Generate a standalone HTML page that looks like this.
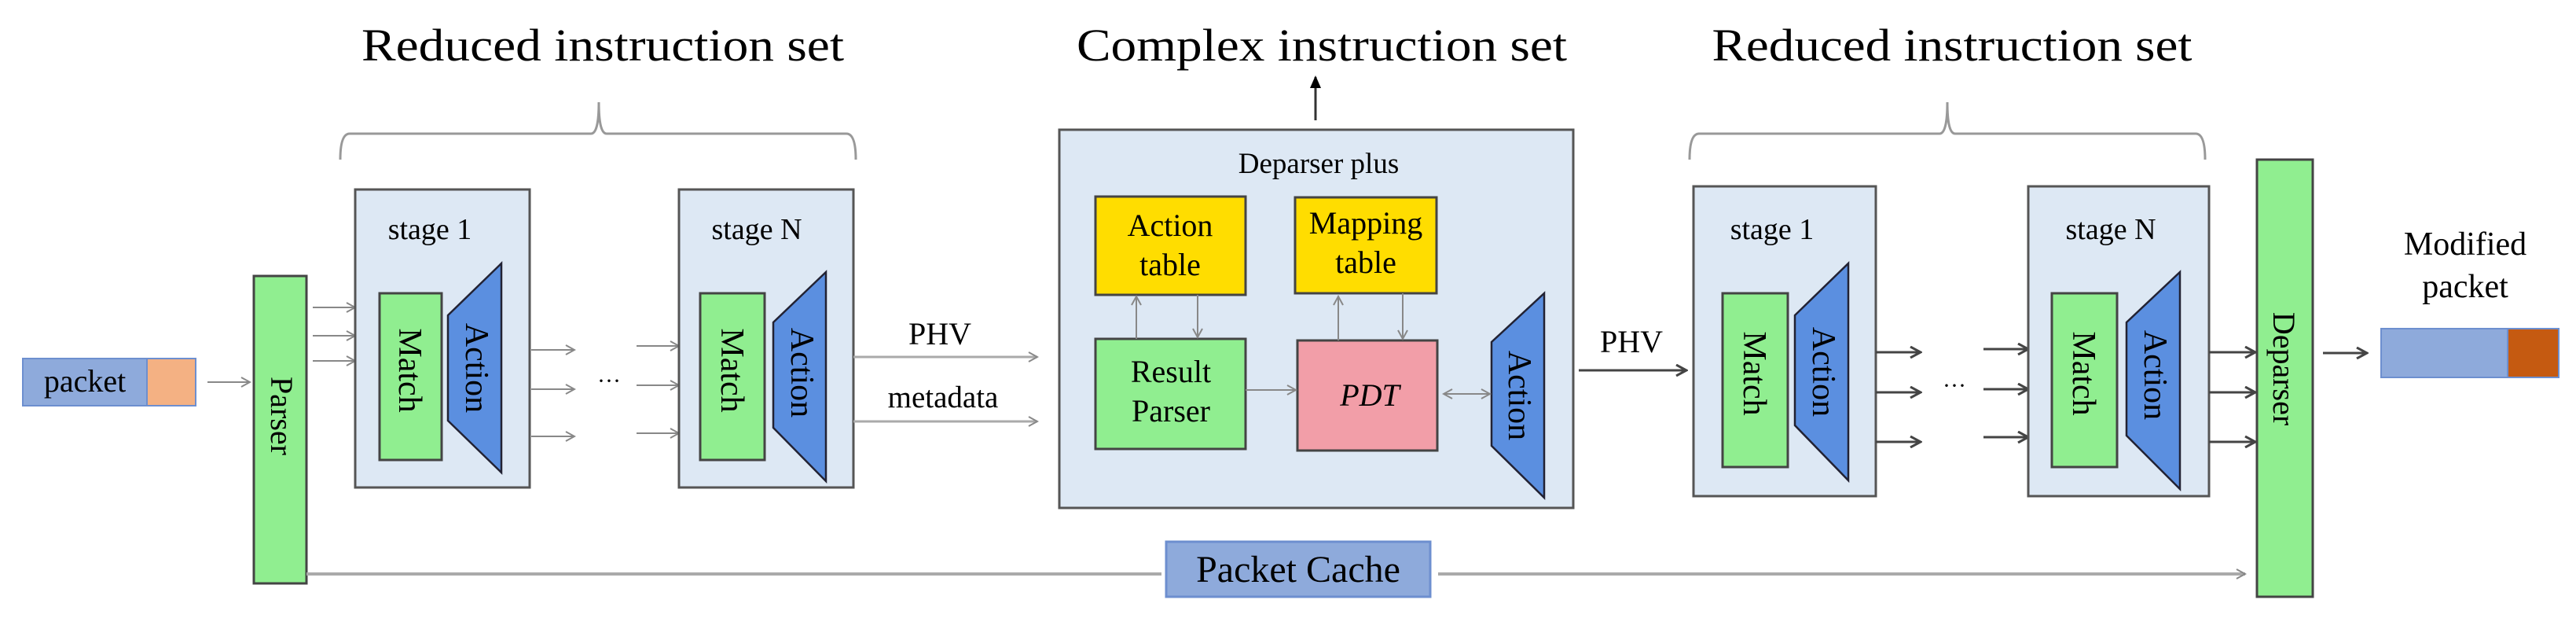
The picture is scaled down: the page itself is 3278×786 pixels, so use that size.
<!DOCTYPE html>
<html><head><meta charset="utf-8"><style>html,body{margin:0;padding:0;background:#fff}svg{display:block}svg text{font-family:"Liberation Serif","DejaVu Serif",serif}</style></head>
<body>
<svg width="3278" height="786" viewBox="0 0 3278 786" xmlns="http://www.w3.org/2000/svg">
<defs>
<marker id="ag" markerWidth="14" markerHeight="14" refX="12" refY="7" orient="auto" markerUnits="userSpaceOnUse"><path d="M1,1 L12,7 L1,13" fill="none" stroke="#888" stroke-width="2"/></marker>
<marker id="ad" markerWidth="16" markerHeight="16" refX="14" refY="8" orient="auto" markerUnits="userSpaceOnUse"><path d="M1,1 L14,8 L1,15" fill="none" stroke="#444" stroke-width="3"/></marker>
<marker id="ab" markerWidth="16" markerHeight="16" refX="14" refY="8" orient="auto" markerUnits="userSpaceOnUse"><path d="M0,1 L16,8 L0,15 Z" fill="#000"/></marker>
</defs>

<!-- Titles -->
<text x="767" y="77" font-size="58" text-anchor="middle" textLength="614" lengthAdjust="spacingAndGlyphs">Reduced instruction set</text>
<text x="1682" y="77" font-size="58" text-anchor="middle" textLength="624" lengthAdjust="spacingAndGlyphs">Complex instruction set</text>
<text x="2484" y="77" font-size="58" text-anchor="middle" textLength="611" lengthAdjust="spacingAndGlyphs">Reduced instruction set</text>

<!-- Braces -->
<path d="M433,203 Q433,170 445,170 L752,170 Q762,170 762,130 Q762,170 772,170 L1077,170 Q1089,170 1089,203" fill="none" stroke="#999" stroke-width="3"/>
<path d="M2150,203 Q2150,170 2162,170 L2468,170 Q2478,170 2478,130 Q2478,170 2488,170 L2794,170 Q2806,170 2806,203" fill="none" stroke="#999" stroke-width="3"/>

<!-- packet -->
<rect x="29" y="456" width="158" height="60" fill="#8eaadb" stroke="#6d8fcf" stroke-width="2"/>
<rect x="187" y="456" width="62" height="60" fill="#f4b183" stroke="#6d8fcf" stroke-width="2"/>
<text x="108" y="498" font-size="40" text-anchor="middle">packet</text>
<line x1="264" y1="486" x2="318" y2="486" stroke="#888" stroke-width="2" marker-end="url(#ag)"/>

<!-- Parser -->
<rect x="323" y="351" width="67" height="391" fill="#90ee90" stroke="#444" stroke-width="3"/>
<text transform="translate(345,529) rotate(90)" font-size="40" text-anchor="middle">Parser</text>
<line x1="398" y1="391" x2="452" y2="391" stroke="#888" stroke-width="2" marker-end="url(#ag)"/>
<line x1="398" y1="427" x2="452" y2="427" stroke="#888" stroke-width="2" marker-end="url(#ag)"/>
<line x1="398" y1="459" x2="452" y2="459" stroke="#888" stroke-width="2" marker-end="url(#ag)"/>

<!-- Stage 1 left -->
<rect x="452" y="241" width="222" height="379" fill="#dde8f4" stroke="#555" stroke-width="3"/>
<text x="547" y="304" font-size="38" text-anchor="middle">stage 1</text>
<rect x="483" y="373" width="79" height="212" fill="#90ee90" stroke="#444" stroke-width="3"/>
<text transform="translate(508,471) rotate(90)" font-size="42" text-anchor="middle">Match</text>
<polygon points="570,401 638,335 638,601 570,535" fill="#5b8fe0" stroke="#223" stroke-width="2.5"/>
<text transform="translate(593,468) rotate(90)" font-size="42" text-anchor="middle">Action</text>

<line x1="676" y1="445" x2="731" y2="445" stroke="#888" stroke-width="2" marker-end="url(#ag)"/>
<line x1="676" y1="495" x2="731" y2="495" stroke="#888" stroke-width="2" marker-end="url(#ag)"/>
<line x1="676" y1="555" x2="731" y2="555" stroke="#888" stroke-width="2" marker-end="url(#ag)"/>
<text x="775" y="494" font-size="30" text-anchor="middle">···</text>
<line x1="810" y1="440" x2="864" y2="440" stroke="#888" stroke-width="2" marker-end="url(#ag)"/>
<line x1="810" y1="490" x2="864" y2="490" stroke="#888" stroke-width="2" marker-end="url(#ag)"/>
<line x1="810" y1="551" x2="864" y2="551" stroke="#888" stroke-width="2" marker-end="url(#ag)"/>

<!-- Stage N left -->
<rect x="864" y="241" width="222" height="379" fill="#dde8f4" stroke="#555" stroke-width="3"/>
<text x="963" y="304" font-size="38" text-anchor="middle">stage N</text>
<rect x="891" y="373" width="82" height="212" fill="#90ee90" stroke="#444" stroke-width="3"/>
<text transform="translate(918,471) rotate(90)" font-size="42" text-anchor="middle">Match</text>
<polygon points="984,410 1051,346 1051,612 984,544" fill="#5b8fe0" stroke="#223" stroke-width="2.5"/>
<text transform="translate(1007,474) rotate(90)" font-size="42" text-anchor="middle">Action</text>

<!-- PHV / metadata -->
<text x="1196" y="438" font-size="40" text-anchor="middle">PHV</text>
<text x="1200" y="518" font-size="39" text-anchor="middle">metadata</text>
<line x1="1086" y1="454" x2="1320" y2="454" stroke="#aaa" stroke-width="3" marker-end="url(#ag)"/>
<line x1="1086" y1="536" x2="1320" y2="536" stroke="#aaa" stroke-width="3" marker-end="url(#ag)"/>

<!-- Complex -->
<line x1="1674" y1="153" x2="1674" y2="98" stroke="#333" stroke-width="3" marker-end="url(#ab)"/>
<rect x="1348" y="165" width="654" height="481" fill="#dde8f4" stroke="#555" stroke-width="3"/>
<text x="1678" y="220" font-size="37" text-anchor="middle">Deparser plus</text>
<rect x="1394" y="250" width="191" height="125" fill="#ffdd00" stroke="#444" stroke-width="3"/>
<text x="1489" y="300" font-size="40" text-anchor="middle">Action</text>
<text x="1489" y="350" font-size="40" text-anchor="middle">table</text>
<rect x="1648" y="251" width="180" height="122" fill="#ffdd00" stroke="#444" stroke-width="3"/>
<text x="1738" y="297" font-size="40" text-anchor="middle">Mapping</text>
<text x="1738" y="347" font-size="40" text-anchor="middle">table</text>
<rect x="1394" y="431" width="191" height="140" fill="#90ee90" stroke="#444" stroke-width="3"/>
<text x="1490" y="486" font-size="40" text-anchor="middle">Result</text>
<text x="1490" y="536" font-size="40" text-anchor="middle">Parser</text>
<rect x="1651" y="433" width="178" height="140" fill="#f29ea8" stroke="#444" stroke-width="3"/>
<text x="1743" y="516" font-size="40" text-anchor="middle" font-style="italic">PDT</text>
<polygon points="1898,435 1965,373 1965,633 1898,567" fill="#5b8fe0" stroke="#223" stroke-width="2.5"/>
<text transform="translate(1920,503) rotate(90)" font-size="42" text-anchor="middle">Action</text>
<line x1="1446" y1="431" x2="1446" y2="377" stroke="#888" stroke-width="2" marker-end="url(#ag)"/>
<line x1="1524" y1="375" x2="1524" y2="429" stroke="#888" stroke-width="2" marker-end="url(#ag)"/>
<line x1="1703" y1="433" x2="1703" y2="377" stroke="#888" stroke-width="2" marker-end="url(#ag)"/>
<line x1="1785" y1="373" x2="1785" y2="431" stroke="#888" stroke-width="2" marker-end="url(#ag)"/>
<line x1="1585" y1="496" x2="1649" y2="496" stroke="#888" stroke-width="2" marker-end="url(#ag)"/>
<line x1="1850" y1="501" x2="1896" y2="501" stroke="#888" stroke-width="2" marker-end="url(#ag)"/>
<line x1="1880" y1="501" x2="1837" y2="501" stroke="#888" stroke-width="2" marker-end="url(#ag)"/>

<text x="2076" y="448" font-size="40" text-anchor="middle">PHV</text>
<line x1="2009" y1="471" x2="2146" y2="471" stroke="#444" stroke-width="3" marker-end="url(#ad)"/>

<!-- Stage 1 right -->
<rect x="2155" y="237" width="232" height="394" fill="#dde8f4" stroke="#555" stroke-width="3"/>
<text x="2255" y="304" font-size="38" text-anchor="middle">stage 1</text>
<rect x="2192" y="373" width="83" height="221" fill="#90ee90" stroke="#444" stroke-width="3"/>
<text transform="translate(2219,475) rotate(90)" font-size="42" text-anchor="middle">Match</text>
<polygon points="2284,401 2352,335 2352,611 2284,541" fill="#5b8fe0" stroke="#223" stroke-width="2.5"/>
<text transform="translate(2307,473) rotate(90)" font-size="42" text-anchor="middle">Action</text>

<line x1="2387" y1="448" x2="2444" y2="448" stroke="#444" stroke-width="3" marker-end="url(#ad)"/>
<line x1="2387" y1="499" x2="2444" y2="499" stroke="#444" stroke-width="3" marker-end="url(#ad)"/>
<line x1="2387" y1="562" x2="2444" y2="562" stroke="#444" stroke-width="3" marker-end="url(#ad)"/>
<text x="2487" y="500" font-size="30" text-anchor="middle">···</text>
<line x1="2524" y1="444" x2="2581" y2="444" stroke="#444" stroke-width="3" marker-end="url(#ad)"/>
<line x1="2524" y1="495" x2="2581" y2="495" stroke="#444" stroke-width="3" marker-end="url(#ad)"/>
<line x1="2524" y1="556" x2="2581" y2="556" stroke="#444" stroke-width="3" marker-end="url(#ad)"/>

<!-- Stage N right -->
<rect x="2581" y="237" width="230" height="394" fill="#dde8f4" stroke="#555" stroke-width="3"/>
<text x="2686" y="304" font-size="38" text-anchor="middle">stage N</text>
<rect x="2611" y="373" width="83" height="221" fill="#90ee90" stroke="#444" stroke-width="3"/>
<text transform="translate(2638,475) rotate(90)" font-size="42" text-anchor="middle">Match</text>
<polygon points="2706,410 2774,346 2774,622 2706,554" fill="#5b8fe0" stroke="#223" stroke-width="2.5"/>
<text transform="translate(2729,477) rotate(90)" font-size="42" text-anchor="middle">Action</text>

<line x1="2811" y1="448" x2="2870" y2="448" stroke="#444" stroke-width="3" marker-end="url(#ad)"/>
<line x1="2811" y1="499" x2="2870" y2="499" stroke="#444" stroke-width="3" marker-end="url(#ad)"/>
<line x1="2811" y1="562" x2="2870" y2="562" stroke="#444" stroke-width="3" marker-end="url(#ad)"/>

<!-- Deparser -->
<rect x="2872" y="203" width="71" height="556" fill="#90ee90" stroke="#444" stroke-width="3"/>
<text transform="translate(2893,469) rotate(90)" font-size="40" text-anchor="middle">Deparser</text>
<line x1="2956" y1="449" x2="3012" y2="449" stroke="#444" stroke-width="3" marker-end="url(#ad)"/>

<text x="3137" y="324" font-size="42" text-anchor="middle">Modified</text>
<text x="3137" y="378" font-size="42" text-anchor="middle">packet</text>
<rect x="3030" y="418" width="161" height="62" fill="#8eaadb" stroke="#6d8fcf" stroke-width="2"/>
<rect x="3191" y="418" width="65" height="62" fill="#c55a11" stroke="#6d8fcf" stroke-width="2"/>

<!-- Packet cache line -->
<line x1="390" y1="730" x2="1478" y2="730" stroke="#aaa" stroke-width="4"/>
<line x1="1830" y1="730" x2="2857" y2="730" stroke="#aaa" stroke-width="4" marker-end="url(#ag)"/>
<rect x="1484" y="689" width="336" height="70" fill="#8eaadb" stroke="#6d8fcf" stroke-width="3"/>
<text x="1652" y="740" font-size="48" text-anchor="middle">Packet Cache</text>
</svg>
</body></html>
